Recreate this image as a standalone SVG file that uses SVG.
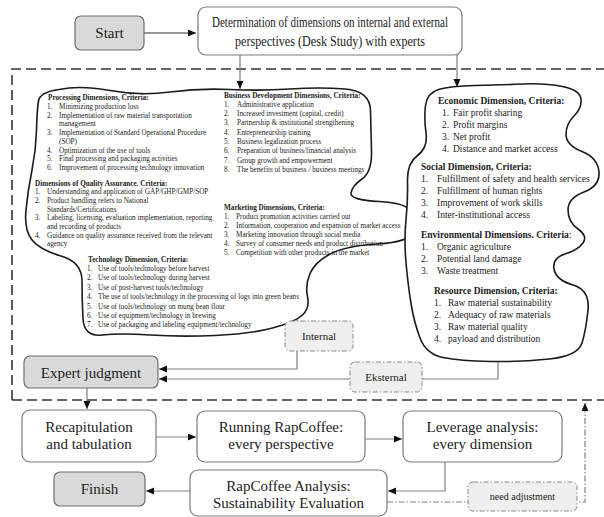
<svg xmlns="http://www.w3.org/2000/svg" width="604" height="517" viewBox="0 0 604 517">
  <defs>
    <marker id="arrow" markerUnits="userSpaceOnUse" markerWidth="9" markerHeight="8" refX="8" refY="3.5" orient="auto">
      <path d="M0,0 L8,3.5 L0,7 Z" fill="#111"/>
    </marker>
    <style>
      .box { fill: #fff; stroke: #7a7a7a; stroke-width: 1.2; }
      .grey { fill: #d9d9d9; stroke: #6e6e6e; stroke-width: 1.2; }
      .tag { fill: #efefef; stroke: #8a8a8a; stroke-width: 1; stroke-dasharray: 5 2 1.5 2; }
      .cloud { fill: #fff; stroke: #1a1a1a; stroke-width: 1.6; stroke-linejoin: round; }
      .frame { fill: none; stroke: #333; stroke-width: 1.6; stroke-dasharray: 10 5; }
      .conn { fill: none; stroke: #808080; stroke-width: 1.2; }
      .dark { stroke: #333; }
      .dd { stroke-dasharray: 6 2 1.5 2; }
      text { font-family: "Liberation Serif", "Times New Roman", serif; fill: #222; }
      .big { font-size: 15px; text-anchor: middle; }
      .lbl { font-size: 11px; text-anchor: middle; }
      .s { font-size: 7.2px; }
      .m { font-size: 9.5px; }
      .h { font-weight: bold; }
    </style>
  </defs>

  <!-- dashed frame around the dimension study -->
  <path class="frame" d="M12,400 V69 H604 M12,400 H604"/>

  <!-- connectors -->
  <g id="connectors">
    <path class="conn dark" d="M144,33 H196" marker-end="url(#arrow)"/>
    <path class="conn" d="M240,55 V89" marker-end="url(#arrow)"/>
    <path class="conn" d="M457,55 V87" marker-end="url(#arrow)"/>
    <path class="conn" d="M297,316 V369 H159" marker-end="url(#arrow)"/>
    <path class="conn" d="M498,360 V379 H159" marker-end="url(#arrow)"/>
    <path class="conn" d="M87,388 V409" marker-end="url(#arrow)"/>
    <path class="conn" d="M156,437 H196" marker-end="url(#arrow)"/>
    <path class="conn" d="M365,439 H402" marker-end="url(#arrow)"/>
    <path class="conn" d="M445,462 V491 H388" marker-end="url(#arrow)"/>
    <path class="conn" d="M190,491 H146" marker-end="url(#arrow)"/>
    <path class="conn dd" d="M387,502 H585 V403" marker-end="url(#arrow)"/>
  </g>

  <g id="start">
    <rect class="grey" x="75" y="16" width="69" height="34" rx="6"/>
    <text class="big" x="109.5" y="38">Start</text>
  </g>

  <g id="determination">
    <rect class="box" x="198" y="7" width="264" height="48" rx="8"/>
    <text class="big" x="330" y="26.5" textLength="236" lengthAdjust="spacingAndGlyphs">Determination of dimensions on internal and external</text>
    <text class="big" x="330" y="46" textLength="190" lengthAdjust="spacingAndGlyphs">perspectives (Desk Study) with experts</text>
  </g>

  <!-- internal perspective: processing, quality, business, marketing, technology -->
  <g id="internal-dimensions">
    <path class="cloud" d="M59,89.5 Q80,85 110,90.5 Q140,96 170,92 Q200,88 230,89.5 Q260,91 290,89 Q320,87 345,89 Q370,91 370.5,110.5 Q371,130 371.5,151 Q372,172 362,179 Q352,186 351,193 Q350,200 379,201.5 Q408,203 411,212.5 Q414,222 412,232 Q410,242 377.5,244 Q345,246 330,254 Q315,262 310,273.5 Q305,285 307.5,296.5 Q310,308 302.5,315 Q295,322 272.5,328 Q250,334 215,335.5 Q180,337 150,335 Q120,333 102,335 Q84,337 83,318.5 Q82,300 82,281 Q82,262 61,256 Q40,250 32,240 Q24,230 26,210 Q28,190 32,170 Q36,150 36.5,130 Q37,110 38.5,101 Q40,92 59,89.5 Z"/>

    <text class="s h" x="48" y="99.5">Processing Dimensions, Criteria:</text>
    <text class="s" x="47" y="109">1.</text><text class="s" x="59" y="109">Minimizing production loss</text>
    <text class="s" x="47" y="117.7">2.</text><text class="s" x="59" y="117.7">Implementation of raw material transportation</text>
    <text class="s" x="59" y="126.4">management</text>
    <text class="s" x="47" y="135.1">3.</text><text class="s" x="59" y="135.1">Implementation of Standard Operational Procedure</text>
    <text class="s" x="59" y="143.8">(SOP)</text>
    <text class="s" x="47" y="152.5">4.</text><text class="s" x="59" y="152.5">Optimization of the use of tools</text>
    <text class="s" x="47" y="161.2">5.</text><text class="s" x="59" y="161.2">Final processing and packaging activities</text>
    <text class="s" x="47" y="169.9">6.</text><text class="s" x="59" y="169.9">Improvement of processing technology innovation</text>

    <text class="s h" x="35" y="185.5">Dimensions of Quality Assurance. Criteria:</text>
    <text class="s" x="35" y="194.2">1.</text><text class="s" x="47" y="194.2">Understanding and application of GAP/GHP/GMP/SOP</text>
    <text class="s" x="35" y="202.9">2.</text><text class="s" x="47" y="202.9">Product handling refers to National</text>
    <text class="s" x="47" y="211.6">Standards/Certifications</text>
    <text class="s" x="35" y="220.3">3.</text><text class="s" x="47" y="220.3">Labeling, licensing, evaluation implementation, reporting</text>
    <text class="s" x="47" y="229">and recording of products</text>
    <text class="s" x="35" y="237.7">4.</text><text class="s" x="47" y="237.7">Guidance on quality assurance received from the relevant</text>
    <text class="s" x="47" y="246.4">agency</text>

    <text class="s h" x="224" y="97.5">Business Development Dimensions, Criteria:</text>
    <text class="s" x="224" y="106.8">1.</text><text class="s" x="237" y="106.8">Administrative application</text>
    <text class="s" x="224" y="116.1">2.</text><text class="s" x="237" y="116.1">Increased investment (capital, credit)</text>
    <text class="s" x="224" y="125.4">3.</text><text class="s" x="237" y="125.4">Partnership &amp; institutional strengthening</text>
    <text class="s" x="224" y="134.7">4.</text><text class="s" x="237" y="134.7">Entrepreneurship training</text>
    <text class="s" x="224" y="144">5.</text><text class="s" x="237" y="144">Business legalization process</text>
    <text class="s" x="224" y="153.3">6.</text><text class="s" x="237" y="153.3">Preparation of business/financial analysis</text>
    <text class="s" x="224" y="162.6">7.</text><text class="s" x="237" y="162.6">Group growth and empowerment</text>
    <text class="s" x="224" y="171.9">8.</text><text class="s" x="237" y="171.9">The benefits of business / business meetings</text>

    <text class="s h" x="224" y="209.5">Marketing Dimensions, Criteria:</text>
    <text class="s" x="224" y="218.5">1.</text><text class="s" x="236" y="218.5">Product promotion activities carried out</text>
    <text class="s" x="224" y="227.5">2.</text><text class="s" x="236" y="227.5">Information, cooperation and expansion of market access</text>
    <text class="s" x="224" y="236.5">3.</text><text class="s" x="236" y="236.5">Marketing innovation through social media</text>
    <text class="s" x="224" y="245.5">4.</text><text class="s" x="236" y="245.5">Survey of consumer needs and product distribution</text>
    <text class="s" x="224" y="254.5">5.</text><text class="s" x="236" y="254.5">Competition with other products in the market</text>

    <text class="s h" x="88" y="261.5">Technology Dimension, Criteria:</text>
    <text class="s" x="87" y="271">1.</text><text class="s" x="98" y="271">Use of tools/technology before harvest</text>
    <text class="s" x="87" y="280.4">2.</text><text class="s" x="98" y="280.4">Use of tools/technology during harvest</text>
    <text class="s" x="87" y="289.8">3.</text><text class="s" x="98" y="289.8">Use of post-harvest tools/technology</text>
    <text class="s" x="87" y="299.2">4.</text><text class="s" x="98" y="299.2">The use of tools/technology in the processing of logs into green beans</text>
    <text class="s" x="87" y="308.6">5.</text><text class="s" x="98" y="308.6">Use of tools/technology on mung bean flour</text>
    <text class="s" x="87" y="318">6.</text><text class="s" x="98" y="318">Use of equipment/technology in brewing</text>
    <text class="s" x="87" y="327.4">7.</text><text class="s" x="98" y="327.4">Use of packaging and labeling equipment/technology</text>
  </g>

  <!-- external perspective: economic, social, environmental, resource -->
  <g id="external-dimensions">
    <path class="cloud" d="M438.5,89.5 Q450,86 475,85.5 Q500,85 522.5,84 Q545,83 562.5,86.5 Q580,90 581,99 Q582,108 574,116 Q566,124 566,134.5 Q566,145 582,151.5 Q598,158 599,172 Q600,186 584,192 Q568,198 568,210 Q568,222 578,229 Q588,236 583,243 Q578,250 565,254 Q552,258 554,269 Q556,280 573,285 Q590,290 588,310 Q586,330 582,343 Q578,356 549,359 Q520,362 490,361.5 Q460,361 443,357.5 Q426,354 420,338 Q414,322 411,303.5 Q408,285 406,262.5 Q404,240 406,220 Q408,200 407.5,181.5 Q407,163 417.5,155.5 Q428,148 426,133 Q424,118 425.5,105.5 Q427,93 438.5,89.5 Z"/>

    <text class="m h" x="438" y="104">Economic Dimension, Criteria:</text>
    <text class="m" x="442" y="116">1.</text><text class="m" x="453" y="116">Fair profit sharing</text>
    <text class="m" x="442" y="128">2.</text><text class="m" x="453" y="128">Profit margins</text>
    <text class="m" x="442" y="140">3.</text><text class="m" x="453" y="140">Net profit</text>
    <text class="m" x="442" y="152">4.</text><text class="m" x="453" y="152">Distance and market access</text>

    <text class="m h" x="421" y="170">Social Dimension, Criteria:</text>
    <text class="m" x="421" y="182">1.</text><text class="m" x="437" y="182">Fulfillment of safety and health services</text>
    <text class="m" x="421" y="194">2.</text><text class="m" x="437" y="194">Fulfillment of human rights</text>
    <text class="m" x="421" y="206">3.</text><text class="m" x="437" y="206">Improvement of work skills</text>
    <text class="m" x="421" y="218">4.</text><text class="m" x="437" y="218">Inter-institutional access</text>

    <text class="m" x="421" y="238"><tspan class="h">Environmental Dimensions. Criteria</tspan>:</text>
    <text class="m" x="421" y="250">1.</text><text class="m" x="437" y="250">Organic agriculture</text>
    <text class="m" x="421" y="262">2.</text><text class="m" x="437" y="262">Potential land damage</text>
    <text class="m" x="421" y="274">3.</text><text class="m" x="437" y="274">Waste treatment</text>

    <text class="m h" x="434" y="294">Resource Dimension, Criteria:</text>
    <text class="m" x="434" y="306">1.</text><text class="m" x="448" y="306">Raw material sustainability</text>
    <text class="m" x="434" y="318">2.</text><text class="m" x="448" y="318">Adequacy of raw materials</text>
    <text class="m" x="434" y="330">3.</text><text class="m" x="448" y="330">Raw material quality</text>
    <text class="m" x="434" y="342">4.</text><text class="m" x="448" y="342">payload and distribution</text>
  </g>

  <g id="internal">
    <rect class="tag" x="285" y="321" width="68" height="30" rx="5"/>
    <text class="lbl" x="319" y="340">Internal</text>
  </g>

  <g id="eksternal">
    <rect class="tag" x="350" y="362" width="72" height="30" rx="5"/>
    <text class="lbl" x="386" y="381">Eksternal</text>
  </g>

  <g id="expert-judgment">
    <rect class="grey" x="24" y="356" width="134" height="32" rx="6"/>
    <text class="big" x="91" y="377.5">Expert judgment</text>
  </g>

  <g id="recapitulation">
    <rect class="box" x="22" y="410" width="134" height="52" rx="8"/>
    <text class="big" x="89" y="432">Recapitulation</text>
    <text class="big" x="89" y="449">and tabulation</text>
  </g>

  <g id="running-rapcoffee">
    <rect class="box" x="197" y="411" width="168" height="51" rx="8"/>
    <text class="big" x="281" y="432">Running RapCoffee:</text>
    <text class="big" x="281" y="449">every perspective</text>
  </g>

  <g id="leverage-analysis">
    <rect class="box" x="403" y="411" width="159" height="51" rx="8"/>
    <text class="big" x="482.5" y="432">Leverage analysis:</text>
    <text class="big" x="482.5" y="449">every dimension</text>
  </g>

  <g id="rapcoffee-analysis">
    <rect class="box" x="190" y="470" width="197" height="46" rx="8"/>
    <text class="big" x="288.5" y="491">RapCoffee Analysis:</text>
    <text class="big" x="288.5" y="508">Sustainability Evaluation</text>
  </g>

  <g id="finish">
    <rect class="grey" x="54" y="472" width="91" height="34" rx="6"/>
    <text class="big" x="99.5" y="494">Finish</text>
  </g>

  <g id="need-adjustment">
    <rect class="tag" x="468" y="482" width="109" height="29" rx="5"/>
    <text class="lbl" x="522.5" y="500" style="font-size:10px">need adjustment</text>
  </g>
</svg>
